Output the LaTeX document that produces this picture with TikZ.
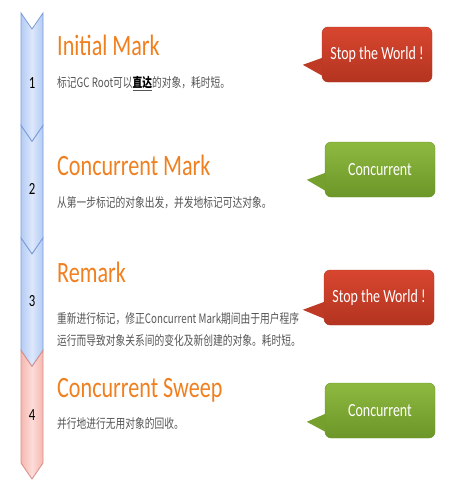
\documentclass[tikz,border=0pt]{standalone}
\usepackage{fontspec}
\setmainfont{Carlito}
\newfontfamily\narrowfont[FakeStretch=0.75]{Carlito}
\newfontfamily\cjkfont[FakeStretch=0.75]{Noto Sans CJK SC}
\usetikzlibrary{positioning,calc}
\definecolor{titleorange}{HTML}{F0801F}
\definecolor{desctext}{HTML}{555555}
\definecolor{chevblueedge}{HTML}{7A9CDA}
\definecolor{chevbluefill}{HTML}{B4CCF4}
\definecolor{chevbluemid}{HTML}{DCE7FB}
\definecolor{chevrededge}{HTML}{D98C86}
\definecolor{chevredfill}{HTML}{F6B8B2}
\definecolor{chevredmid}{HTML}{FCDCD8}
\definecolor{stoptop}{HTML}{D8462F}
\definecolor{stopbottom}{HTML}{B33420}
\definecolor{stoptail}{HTML}{BE3A25}
\definecolor{conctop}{HTML}{8EB940}
\definecolor{concbottom}{HTML}{6C9628}
\definecolor{conctail}{HTML}{75A02E}
\begin{document}
\begin{tikzpicture}[
  x=1pt, y=-1pt,
  chevblue/.style={draw=chevblueedge, line width=0.8pt, left color=chevbluefill, right color=chevbluefill, middle color=chevbluemid},
  chevred/.style={draw=chevrededge, line width=0.8pt, left color=chevredfill, right color=chevredfill, middle color=chevredmid},
  steplabel/.style={inner sep=0, font=\narrowfont\fontsize{17}{17}\selectfont},
  phase/.style={anchor=base west, inner sep=0, text=titleorange, font=\narrowfont\fontsize{29.5}{30}\selectfont},
  desc/.style={anchor=west, inner sep=0, text=desctext, align=left, font=\cjkfont\fontsize{13}{22}\selectfont},
  bubble/.style={rounded corners=6pt, minimum width=110pt, minimum height=55pt, inner sep=0, text=white, font=\narrowfont\fontsize{18.6}{19}\selectfont},
  stopbubble/.style={bubble, top color=stoptop, bottom color=stopbottom, draw=stopbottom, line width=0.4pt},
  concbubble/.style={bubble, top color=conctop, bottom color=concbottom, draw=concbottom, line width=0.4pt}
]
\useasboundingbox (0,0) rectangle (453,496);

% left chevron bar
\foreach \t/\kind in {13/chevblue, 125.5/chevblue, 238/chevblue, 350.5/chevred}
  \path[\kind] (21,\t) -- (32,\t+16) -- (43,\t) -- (43,\t+112.5) -- (32,\t+128.5) -- (21,\t+112.5) -- cycle;

\node[steplabel] (n1) at (32,83) {1};
\node[steplabel] (n2) at (32,189) {2};
\node[steplabel] (n3) at (32,301) {3};
\node[steplabel] (n4) at (32,415) {4};

% phases
\node[phase] (initial) at (57,55) {Initial Mark};
\node[desc] (initialdesc) at (57,84) {标记GC Root可以\underline{\textbf{\color{black}直达}}的对象，耗时短。};

\node[phase] (cmark) at (57,175) {Concurrent Mark};
\node[desc] (cmarkdesc) at (57,203) {从第一步标记的对象出发，并发地标记可达对象。};

\node[phase] (remark) at (57,282) {Remark};
\node[desc] (remarkdesc) at (57,330) {重新进行标记，修正Concurrent Mark期间由于用户程序\\运行而导致对象关系间的变化及新创建的对象。耗时短。};

\node[phase] (csweep) at (57,397) {Concurrent Sweep};
\node[desc] (csweepdesc) at (57,424) {并行地进行无用对象的回收。};

% speech bubbles
\node[stopbubble] (stw1) at (377,54.5) {Stop the World !};
\fill[stoptail] ($(stw1.north west)+(0.6,31)$) -- ($(stw1.north west)+(-19,38)$) -- ($(stw1.north west)+(0.6,49)$) -- cycle;

\node[concbubble] (conc1) at (380,169.5) {Concurrent};
\fill[conctail] ($(conc1.north west)+(0.6,31)$) -- ($(conc1.north west)+(-18,38)$) -- ($(conc1.north west)+(0.6,49)$) -- cycle;

\node[stopbubble] (stw2) at (379,297.5) {Stop the World !};
\fill[stoptail] ($(stw2.north west)+(0.6,32)$) -- ($(stw2.north west)+(-21,40)$) -- ($(stw2.north west)+(0.6,49)$) -- cycle;

\node[concbubble] (conc2) at (380,410.5) {Concurrent};
\fill[conctail] ($(conc2.north west)+(0.6,31)$) -- ($(conc2.north west)+(-18,39)$) -- ($(conc2.north west)+(0.6,49)$) -- cycle;
\end{tikzpicture}
\end{document}
